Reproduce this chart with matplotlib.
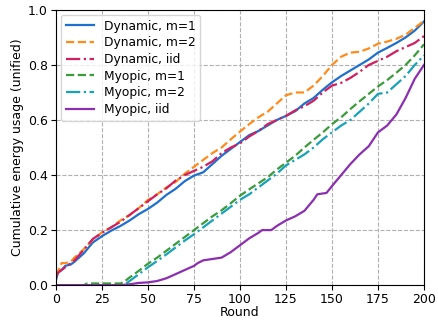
import matplotlib
matplotlib.use("Agg")
import matplotlib.pyplot as plt

# rounds and cumulative energy usage
x_dyn = [0, 1, 3, 5, 8, 10, 15, 20, 25, 30, 35, 40, 45, 50, 55, 60, 65, 70, 75, 80,
         85, 90, 95, 100, 105, 110, 115, 120, 125, 130, 135, 140, 145, 150, 155, 160,
         165, 170, 175, 180, 185, 190, 195, 200]
dyn_m1 = [0.02, 0.045, 0.055, 0.07, 0.075, 0.085, 0.115, 0.155, 0.178, 0.198, 0.215, 0.235,
          0.258, 0.277, 0.30, 0.328, 0.35, 0.378, 0.398, 0.41, 0.44, 0.47, 0.495, 0.52,
          0.545, 0.56, 0.58, 0.60, 0.615, 0.632, 0.66, 0.68, 0.71, 0.737, 0.76, 0.78,
          0.80, 0.82, 0.845, 0.862, 0.88, 0.90, 0.925, 0.958]
dyn_m2 = [0.035, 0.05, 0.08, 0.08, 0.085, 0.10, 0.13, 0.165, 0.192, 0.21, 0.235, 0.255,
          0.28, 0.31, 0.33, 0.355, 0.375, 0.405, 0.43, 0.455, 0.48, 0.50, 0.53, 0.558,
          0.585, 0.61, 0.63, 0.66, 0.69, 0.70, 0.70, 0.725, 0.76, 0.80, 0.83, 0.845,
          0.848, 0.86, 0.877, 0.885, 0.895, 0.91, 0.935, 0.96]
dyn_iid = [0.03, 0.045, 0.055, 0.065, 0.08, 0.09, 0.128, 0.168, 0.19, 0.21, 0.23, 0.255,
           0.28, 0.305, 0.33, 0.352, 0.38, 0.40, 0.415, 0.43, 0.45, 0.48, 0.50, 0.515,
           0.54, 0.56, 0.585, 0.60, 0.615, 0.635, 0.65, 0.67, 0.70, 0.725, 0.735, 0.753,
           0.775, 0.80, 0.815, 0.83, 0.85, 0.865, 0.88, 0.905]

x_myo = [0, 15, 17, 35, 37, 40, 45, 50, 55, 60, 65, 70, 75, 80, 85, 90, 95, 100, 105,
         110, 115, 120, 125, 130, 135, 140, 145, 150, 155, 160, 165, 170, 175, 180, 185,
         190, 195, 200]
myo_m1 = [0.0, 0.0, 0.006, 0.006, 0.012, 0.028, 0.052, 0.078, 0.10, 0.125, 0.15, 0.175,
          0.20, 0.225, 0.25, 0.272, 0.298, 0.325, 0.348, 0.37, 0.392, 0.42, 0.445, 0.47,
          0.50, 0.528, 0.555, 0.585, 0.61, 0.64, 0.668, 0.695, 0.722, 0.745, 0.772, 0.80,
          0.835, 0.875]
myo_m2 = [0.0, 0.0, 0.0, 0.0, 0.0, 0.015, 0.04, 0.065, 0.088, 0.112, 0.137, 0.162, 0.185,
          0.21, 0.235, 0.26, 0.285, 0.31, 0.33, 0.355, 0.38, 0.405, 0.435, 0.455, 0.475,
          0.50, 0.53, 0.555, 0.58, 0.60, 0.63, 0.66, 0.695, 0.70, 0.73, 0.76, 0.80, 0.835]

x_iid = [0, 35, 40, 45, 50, 55, 60, 65, 70, 75, 77, 80, 85, 90, 95, 100, 105, 110, 112,
         117, 120, 125, 130, 135, 140, 142, 147, 150, 155, 160, 165, 170, 175, 180, 185,
         190, 195, 200]
myo_iid = [0.0, 0.0, 0.003, 0.008, 0.01, 0.015, 0.025, 0.04, 0.055, 0.07, 0.08, 0.09,
           0.095, 0.10, 0.12, 0.145, 0.17, 0.19, 0.20, 0.20, 0.215, 0.235, 0.25, 0.27,
           0.31, 0.33, 0.335, 0.36, 0.40, 0.44, 0.475, 0.505, 0.555, 0.58, 0.62, 0.68,
           0.75, 0.80]

fig = plt.figure(figsize=(4.38, 3.2), dpi=100)
ax = fig.add_axes([0.128, 0.109, 0.840, 0.860])

lw = 1.6
ax.plot(x_dyn, dyn_m1, color="#1f6fcf", ls="-", lw=lw, label="Dynamic, m=1")
ax.plot(x_dyn, dyn_m2, color="#ff8c1a", ls="--", lw=lw, label="Dynamic, m=2")
ax.plot(x_dyn, dyn_iid, color="#d11f5f", ls="-.", lw=lw, label="Dynamic, iid")
ax.plot(x_myo, myo_m1, color="#3b9b3b", ls="--", lw=lw, label="Myopic, m=1")
ax.plot(x_myo, myo_m2, color="#17a2b8", ls="-.", lw=lw, label="Myopic, m=2")
ax.plot(x_iid, myo_iid, color="#8b2fb0", ls="-", lw=lw, label="Myopic, iid")

ax.set_xlim(0, 200)
ax.set_ylim(0, 1.0)
ax.set_xticks(range(0, 201, 25))
ax.set_yticks([0.0, 0.2, 0.4, 0.6, 0.8, 1.0])
ax.tick_params(labelsize=9, pad=2.5)
ax.grid(True, ls="--", color="#b0b0b0", lw=0.8)
ax.set_xlabel("Round", fontsize=9, labelpad=0)
ax.set_ylabel("Cumulative energy usage (unified)", fontsize=9, labelpad=3)
ax.legend(loc="upper left", fontsize=8.8, handlelength=2.3, labelspacing=0.3,
          borderaxespad=0.4)

fig.savefig("out.png", dpi=100)
